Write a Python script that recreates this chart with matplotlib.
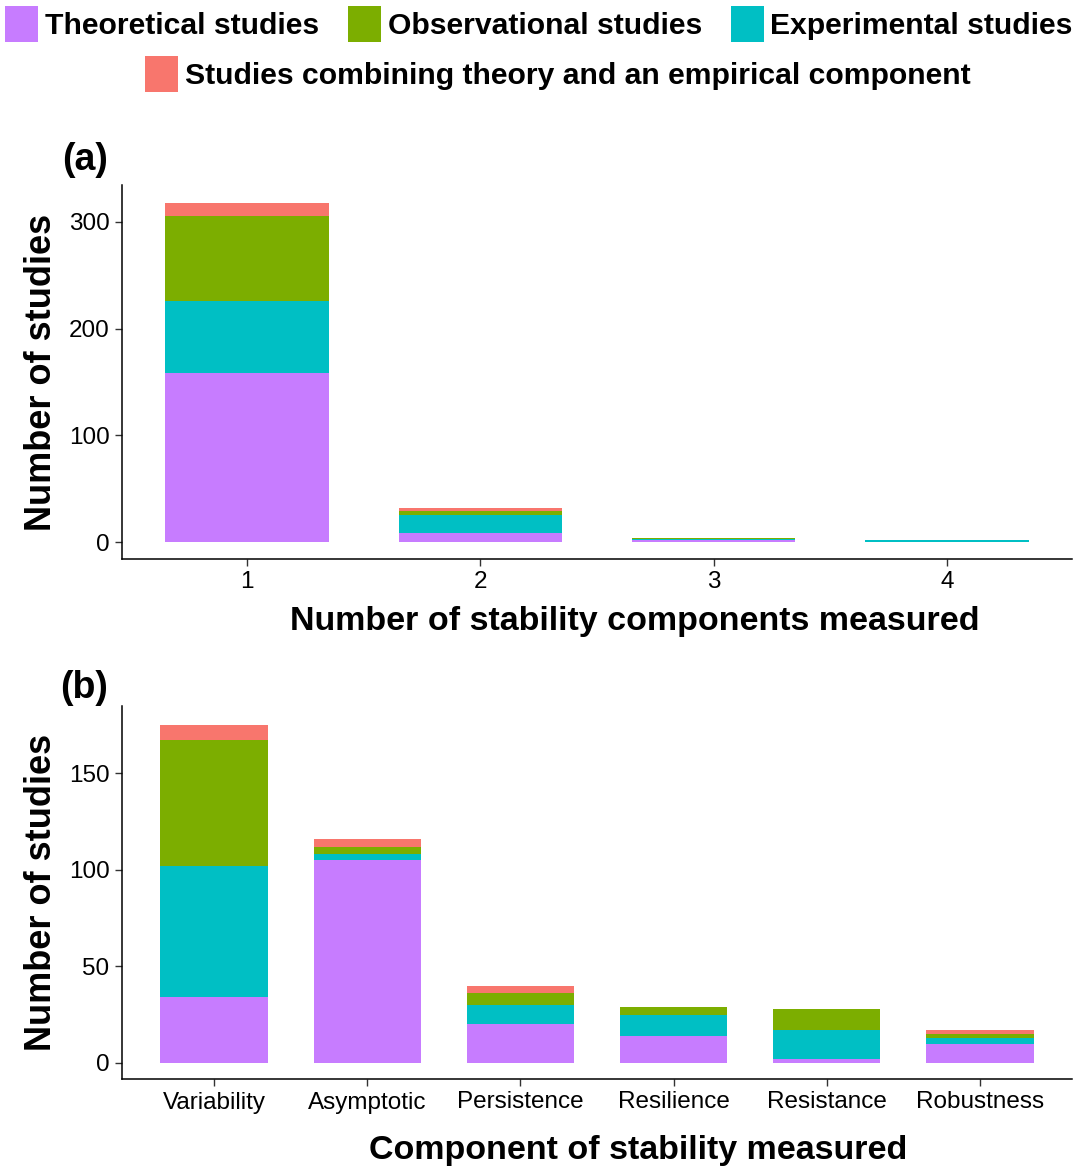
import matplotlib
matplotlib.use("Agg")
import matplotlib.pyplot as plt
from matplotlib.patches import Patch
import numpy as np

# ---- data ----
a_components = [1, 2, 3, 4]
a_theoretical = [158, 8, 2, 0]
a_experimental = [68, 17, 1, 2]
a_observational = [79, 4, 1, 0]
a_combined = [13, 3, 0, 0]

b_components = ['Variability', 'Asymptotic', 'Persistence', 'Resilience', 'Resistance', 'Robustness']
b_theoretical = [34, 105, 20, 14, 2, 10]
b_experimental = [68, 3, 10, 11, 15, 3]
b_observational = [65, 4, 6, 4, 11, 2]
b_combined = [8, 4, 4, 0, 0, 2]

legend_labels = ['Theoretical studies', 'Observational studies', 'Experimental studies',
                 'Studies combining theory and an empirical component']

C_THEO = '#C77CFF'
C_OBS = '#7CAE00'
C_EXP = '#00BFC4'
C_COMB = '#F8766D'

plt.rcParams['font.family'] = ['Liberation Sans', 'DejaVu Sans']

W, H = 1074, 1168
fig = plt.figure(figsize=(W / 100, H / 100), dpi=100)


def px_axes(left, top, right, bottom):
    return fig.add_axes([left / W, 1 - bottom / H, (right - left) / W, (bottom - top) / H])


def stack(ax, x, series, colors, width):
    base = np.zeros(len(x))
    for vals, col in zip(series, colors):
        v = np.array(vals, dtype=float)
        ax.bar(x, v, bottom=base, width=width, color=col, linewidth=0)
        base += v


def style(ax):
    for s in ['top', 'right']:
        ax.spines[s].set_visible(False)
    for s in ['left', 'bottom']:
        ax.spines[s].set_linewidth(1.1)
        ax.spines[s].set_color('black')
    ax.tick_params(axis='both', length=5, width=1.0, color='#333333', labelsize=17.5,
                   labelcolor='black', pad=4)


order_colors = [C_THEO, C_EXP, C_OBS, C_COMB]

# ---- panel (a) ----
axa = px_axes(122, 185, 1072, 559)
stack(axa, a_components, [a_theoretical, a_experimental, a_observational, a_combined],
      order_colors, 0.7)
axa.set_xlim(0.465, 4.535)
axa.set_ylim(-15.9, 334.5)
axa.set_xticks(a_components)
axa.set_yticks([0, 100, 200, 300])
style(axa)
axa.set_xlabel('Number of stability components measured', fontsize=24.5, fontweight='bold')
axa.set_ylabel('Number of studies', fontsize=26, fontweight='bold')
axa.xaxis.label.set_va('center')
axa.xaxis.set_label_coords((635 - 122) / 950, -(622 - 559) / 374)
axa.yaxis.label.set_va('center')
axa.yaxis.set_label_coords(-(122 - 42) / 950, 0.5)
fig.text(85 / W, 1 - 160 / H, '(a)', fontsize=27, fontweight='bold', ha='center', va='center')

# ---- panel (b) ----
axb = px_axes(122, 706, 1072, 1079)
xb = np.arange(len(b_components))
stack(axb, xb, [b_theoretical, b_experimental, b_observational, b_combined],
      order_colors, 0.7)
axb.set_xlim(-0.6, len(b_components) - 0.4)
axb.set_ylim(-8.3, 184.7)
axb.set_xticks(xb)
axb.set_xticklabels(b_components)
axb.set_yticks([0, 50, 100, 150])
style(axb)
axb.set_xlabel('Component of stability measured', fontsize=24.5, fontweight='bold')
axb.set_ylabel('Number of studies', fontsize=26, fontweight='bold')
axb.xaxis.label.set_va('center')
axb.xaxis.set_label_coords((638 - 122) / 950, -(1151 - 1079) / 373)
axb.yaxis.label.set_va('center')
axb.yaxis.set_label_coords(-(122 - 42) / 950, 0.5)
fig.text(84 / W, 1 - 688 / H, '(b)', fontsize=27, fontweight='bold', ha='center', va='center')

# ---- legend ----
handles = [Patch(facecolor=c, edgecolor='none') for c in [C_THEO, C_OBS, C_EXP, C_COMB]]
leg_font = {'family': ['Liberation Sans'], 'weight': 'bold', 'size': 21.7}
common = dict(frameon=False, handlelength=1.1, handleheight=1.45, handletextpad=0.22,
              borderpad=0, borderaxespad=0, prop=leg_font)
fig.legend(handles[:3], legend_labels[:3], loc='upper center', ncol=3,
           bbox_to_anchor=(539 / W, 1 - 6 / H), columnspacing=0.95, **common)
fig.legend(handles[3:], legend_labels[3:], loc='upper center', ncol=1,
           bbox_to_anchor=(558 / W, 1 - 56 / H), **common)

fig.savefig('out.png', dpi=100)
